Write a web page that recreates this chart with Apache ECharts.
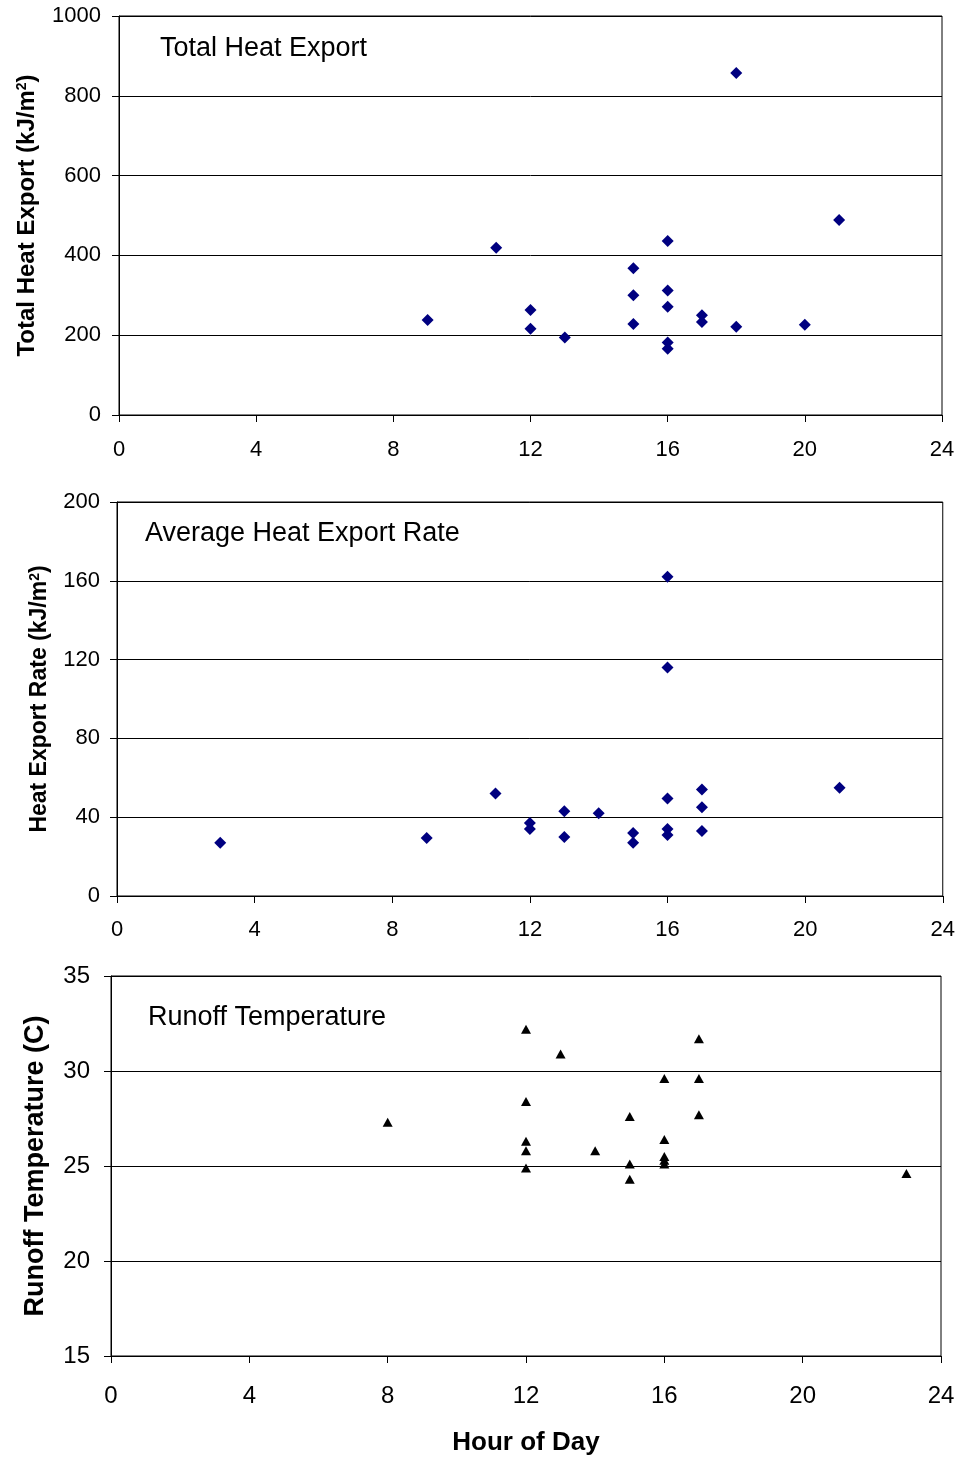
<!DOCTYPE html>
<html>
<head>
<meta charset="utf-8">
<script src="https://cdn.jsdelivr.net/npm/echarts@6/dist/echarts.min.js"></script>
<style>
  html, body { margin: 0; padding: 0; background: #fff; }
  #chart { width: 958px; height: 1458px; }
</style>
</head>
<body>
<div id="chart"></div>
<script>
// Hour-of-day tick labels shared by all three panels
const hourTicks = [0, 4, 8, 12, 16, 20, 24];

// Panel 1: total heat export per event (kJ/m2)
const exportHours = [9, 11, 12, 12, 13, 15, 15, 15, 16, 16, 16, 16, 16, 17, 17, 18, 18, 20, 21];
const totalExport = [238, 419, 263, 216, 194, 368, 300, 228, 436, 312, 271, 182, 166, 250, 233, 857, 221, 226, 489];

// Panel 2: average heat export rate
const rateHours = [3, 9, 11, 12, 12, 13, 13, 14, 15, 15, 16, 16, 16, 16, 16, 17, 17, 17, 21];
const exportRate = [27, 29.5, 52, 37, 34, 43, 30, 42, 32, 27, 162, 116, 49.5, 34, 31, 54, 45, 33, 55];

// Panel 3: runoff temperature (C)
const runoffHours = [8, 12, 12, 12, 12, 12, 13, 14, 15, 15, 15, 16, 16, 16, 16, 16, 17, 17, 17, 23];
const runoffTemp = [27.3, 32.2, 28.4, 26.3, 25.8, 24.9, 30.9, 25.8, 27.6, 25.1, 24.3, 29.6, 26.4, 25.5, 25.3, 25.1, 31.7, 29.6, 27.7, 24.6];

const FONT = 'Liberation Sans, Arial, sans-serif';
const pairs = (xs, ys) => xs.map((x, i) => [x, ys[i]]);

const chart = echarts.init(document.getElementById('chart'), null, { renderer: 'canvas' });

function xAxisFor(gridIndex, fontSize, margin, extra) {
  return Object.assign({
    type: 'value', gridIndex: gridIndex, min: 0, max: 24, interval: 4,
    axisLine: { show: true, onZero: false, lineStyle: { color: '#000', width: 1 } },
    axisTick: { show: true, length: 7, lineStyle: { color: '#000' } },
    axisLabel: { fontFamily: FONT, fontSize: fontSize, color: '#000', margin: margin,
      formatter: v => hourTicks.includes(v) ? String(v) : '' },
    splitLine: { show: false }
  }, extra || {});
}

function yAxisFor(gridIndex, min, max, interval, fontSize, margin, name) {
  return Object.assign({
    type: 'value', gridIndex: gridIndex, min: min, max: max, interval: interval,
    axisLine: { show: true, lineStyle: { color: '#000', width: 1 } },
    axisTick: { show: true, length: 7, lineStyle: { color: '#000' } },
    axisLabel: { fontFamily: FONT, fontSize: fontSize, color: '#000', margin: margin,
      formatter: v => String(v) },
    splitLine: { show: true, lineStyle: { color: '#000', width: 1 } },
    nameLocation: 'middle'
  }, name);
}

const superRich = size => ({
  a: { fontFamily: FONT, fontSize: size, fontWeight: 'bold', color: '#000' },
  s: { fontFamily: FONT, fontSize: Math.round(size * 0.6), fontWeight: 'bold', color: '#000', verticalAlign: 'top' }
});

const titleStyle = { fontFamily: FONT, fontSize: 27, fontWeight: 'normal', color: '#000' };

const option = {
  backgroundColor: '#fff',
  animation: false,
  title: [
    { text: 'Total Heat Export', left: 160, top: 35, padding: 0, textStyle: titleStyle },
    { text: 'Average Heat Export Rate', left: 145, top: 520, padding: 0, textStyle: titleStyle },
    { text: 'Runoff Temperature', left: 148, top: 1004, padding: 0, textStyle: titleStyle }
  ],
  grid: [
    { left: 119, right: 16, top: 16, height: 399, show: true, borderColor: '#000', borderWidth: 1, backgroundColor: 'transparent' },
    { left: 117, right: 13, top: 502, height: 394, show: true, borderColor: '#000', borderWidth: 1, backgroundColor: 'transparent' },
    { left: 111, right: 17, top: 976, height: 380, show: true, borderColor: '#000', borderWidth: 1, backgroundColor: 'transparent' }
  ],
  xAxis: [
    xAxisFor(0, 22, 24),
    xAxisFor(1, 22, 23),
    xAxisFor(2, 24, 28, {
      name: 'Hour of Day', nameLocation: 'middle', nameGap: 74,
      nameTextStyle: { fontFamily: FONT, fontSize: 26, fontWeight: 'bold', color: '#000' }
    })
  ],
  yAxis: [
    yAxisFor(0, 0, 1000, 200, 22, 18, {
      name: '{a|Total Heat Export (kJ/m}{s|2}{a|)}', nameGap: 80,
      nameTextStyle: { rich: superRich(24) }
    }),
    yAxisFor(1, 0, 200, 40, 22, 17, {
      name: '{a|Heat Export Rate (kJ/m}{s|2}{a|)}', nameGap: 66,
      nameTextStyle: { rich: superRich(23) }
    }),
    yAxisFor(2, 15, 35, 5, 24, 21, {
      name: 'Runoff Temperature (C)', nameGap: 62,
      nameTextStyle: { fontFamily: FONT, fontSize: 27, fontWeight: 'bold', color: '#000' }
    })
  ],
  series: [
    { type: 'scatter', xAxisIndex: 0, yAxisIndex: 0, symbol: 'diamond', symbolSize: 12,
      itemStyle: { color: '#000080', opacity: 1 }, data: pairs(exportHours, totalExport) },
    { type: 'scatter', xAxisIndex: 1, yAxisIndex: 1, symbol: 'diamond', symbolSize: 12,
      itemStyle: { color: '#000080', opacity: 1 }, data: pairs(rateHours, exportRate) },
    { type: 'scatter', xAxisIndex: 2, yAxisIndex: 2, symbol: 'triangle', symbolSize: [10, 9],
      itemStyle: { color: '#000', opacity: 1 }, data: pairs(runoffHours, runoffTemp) }
  ]
};

chart.setOption(option);
</script>
</body>
</html>
